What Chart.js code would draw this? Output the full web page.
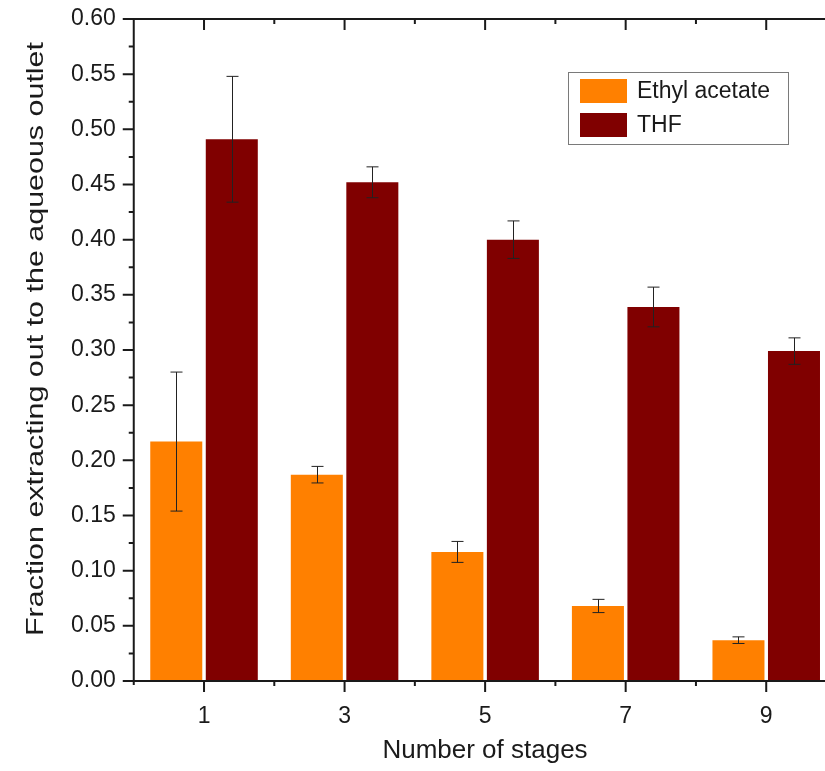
<!DOCTYPE html>
<html>
<head>
<meta charset="utf-8">
<script src="https://cdn.jsdelivr.net/npm/chart.js@4.4.1/dist/chart.umd.min.js"></script>
<style>
  html, body { margin: 0; padding: 0; background: #fff; overflow: hidden; }
  #wrap { position: relative; width: 845px; height: 771px; }
  canvas { display: block; }
</style>
</head>
<body>
<div id="wrap"><canvas id="c" width="845" height="771"></canvas></div>
<script>
// ---- data ----
const stages = [1, 3, 5, 7, 9];
const ethylAcetate = [0.217, 0.187, 0.117, 0.068, 0.037];
const ethylAcetateErr = [0.063, 0.0075, 0.0095, 0.006, 0.003];
const thf = [0.491, 0.452, 0.400, 0.339, 0.299];
const thfErr = [0.057, 0.014, 0.017, 0.018, 0.012];
const seriesLabels = ['Ethyl acetate', 'THF'];
const xTitle = 'Number of stages';
const yTitle = 'Fraction extracting out to the aqueous outlet';
const xMin = 0, xMax = 10;
const yMin = 0, yMax = 0.60, yStep = 0.05;

const FONT = '"Liberation Sans", Arial, Helvetica, sans-serif';
const INK = '#1a1a1a';
const colors = ['#FF8000', '#800000'];
const errs = [ethylAcetateErr, thfErr];

const framePlugin = {
  id: 'frame',
  afterDatasetsDraw(chart) {
    const ctx = chart.ctx;
    const y = chart.scales.y;
    ctx.save();
    ctx.strokeStyle = '#222';
    ctx.lineWidth = 1;
    chart.data.datasets.forEach((ds, di) => {
      const meta = chart.getDatasetMeta(di);
      meta.data.forEach((el, i) => {
        const v = ds.data[i].y, e = errs[di][i];
        const x = Math.round(el.x) + 0.5;
        const yt = y.getPixelForValue(v + e), yb = y.getPixelForValue(v - e);
        ctx.beginPath();
        ctx.moveTo(x, yt); ctx.lineTo(x, yb);
        ctx.moveTo(x - 6, yt); ctx.lineTo(x + 6, yt);
        ctx.moveTo(x - 6, yb); ctx.lineTo(x + 6, yb);
        ctx.stroke();
      });
    });
    ctx.restore();
  },
  afterDraw(chart) {
    const ctx = chart.ctx;
    const a = chart.chartArea;
    const xs = chart.scales.x, ys = chart.scales.y;
    ctx.save();
    ctx.strokeStyle = INK;
    ctx.lineWidth = 2;
    ctx.beginPath();
    ctx.moveTo(a.left, a.bottom + 4); ctx.lineTo(a.left, a.top);
    ctx.lineTo(a.right, a.top); ctx.lineTo(a.right, a.bottom);
    ctx.moveTo(a.left - 3, a.bottom); ctx.lineTo(a.right, a.bottom);
    ctx.stroke();
    for (let v = xMin + 1; v < xMax; v++) {
      const px = xs.getPixelForValue(v);
      const len = (v % 2 === 1) ? 11 : 5;
      ctx.beginPath();
      ctx.moveTo(px, a.bottom); ctx.lineTo(px, a.bottom + len);
      ctx.moveTo(px, a.top); ctx.lineTo(px, a.top + len);
      ctx.stroke();
    }
    const n = Math.round((yMax - yMin) / yStep);
    for (let k = 0; k <= n * 2; k++) {
      const v = yMin + k * yStep / 2;
      const py = ys.getPixelForValue(v);
      const len = (k % 2 === 0) ? 11 : 5;
      ctx.beginPath();
      ctx.moveTo(a.left, py); ctx.lineTo(a.left - len, py);
      ctx.moveTo(a.right, py); ctx.lineTo(a.right - len, py);
      ctx.stroke();
    }
    // legend
    ctx.lineWidth = 1;
    ctx.strokeStyle = '#7a7a7a';
    ctx.strokeRect(568.5, 72.5, 220, 72);
    ctx.font = '23px ' + FONT;
    ctx.textBaseline = 'middle';
    ctx.textAlign = 'left';
    chart.data.datasets.forEach((ds, i) => {
      const top = 79 + i * 34;
      ctx.fillStyle = ds.backgroundColor;
      ctx.fillRect(580, top, 47, 24);
      ctx.fillStyle = INK;
      ctx.fillText(ds.label, 637, top + 13);
    });
    // x title
    ctx.font = '26px ' + FONT;
    ctx.textAlign = 'center';
    ctx.textBaseline = 'alphabetic';
    ctx.fillStyle = INK;
    ctx.fillText(xTitle, 485, 758);
    // y title
    ctx.font = '24px ' + FONT;
    const w = ctx.measureText(yTitle).width;
    const sx = 594 / w;
    ctx.translate(36, 339);
    ctx.rotate(-Math.PI / 2);
    ctx.scale(sx, 1);
    ctx.textBaseline = 'middle';
    ctx.fillText(yTitle, 0, 0);
    ctx.restore();
  }
};

new Chart(document.getElementById('c'), {
  type: 'bar',
  data: {
    datasets: [
      { label: seriesLabels[0], data: stages.map((s, i) => ({ x: s, y: ethylAcetate[i] })), backgroundColor: colors[0] },
      { label: seriesLabels[1], data: stages.map((s, i) => ({ x: s, y: thf[i] })), backgroundColor: colors[1] }
    ]
  },
  options: {
    responsive: false,
    animation: false,
    devicePixelRatio: 1,
    layout: { padding: { top: 19, right: 8.5, left: 0, bottom: 0 } },
    datasets: { bar: { categoryPercentage: 1.58, barPercentage: 0.937 } },
    plugins: { legend: { display: false }, tooltip: { enabled: false } },
    scales: {
      x: {
        type: 'linear', min: xMin, max: xMax, offset: false,
        grid: { display: false, drawTicks: true, tickLength: 22 },
        border: { display: false },
        ticks: {
          stepSize: 1, padding: 0, color: INK,
          font: { family: FONT, size: 23 },
          callback: v => (v % 2 === 1 ? String(v) : '')
        },
        afterFit: s => { s.height = 90; }
      },
      y: {
        min: yMin, max: yMax,
        grid: { display: false, drawTicks: true, tickLength: 18 },
        border: { display: false },
        ticks: {
          stepSize: yStep, padding: 0, color: INK,
          font: { family: FONT, size: 23 },
          callback: v => Number(v).toFixed(2)
        },
        afterFit: s => { s.width = 133.75; }
      }
    }
  },
  plugins: [framePlugin]
});
</script>
</body>
</html>
